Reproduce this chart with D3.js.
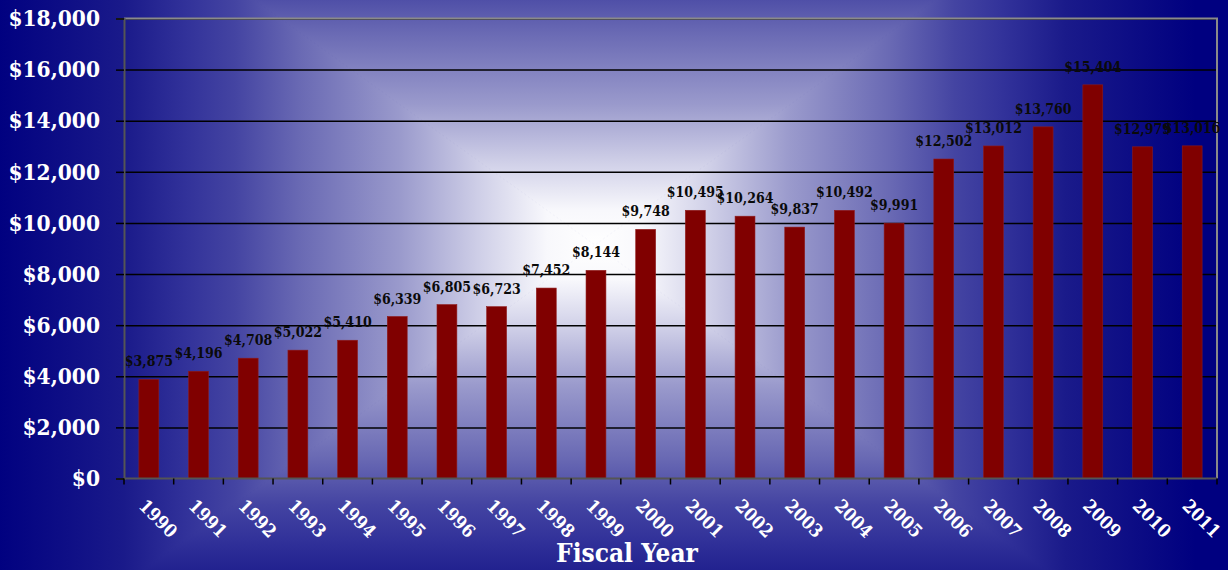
<!DOCTYPE html>
<html>
<head>
<meta charset="utf-8">
<script src="https://cdn.jsdelivr.net/npm/d3@7"></script>
<style>
  html, body { margin: 0; padding: 0; background: #000080; }
  svg { display: block; }
  text { font-family: "DejaVu Serif Condensed", "DejaVu Serif", serif; font-weight: bold; font-stretch: condensed; }
</style>
</head>
<body>
<svg id="chart" width="1228" height="570"></svg>
<script>
// Annual amounts by fiscal year (dollars)
const years = ['1990','1991','1992','1993','1994','1995','1996','1997','1998','1999','2000',
               '2001','2002','2003','2004','2005','2006','2007','2008','2009','2010','2011'];
const amounts = [3875, 4196, 4708, 5022, 5410, 6339, 6805, 6723, 7452, 8144, 9748,
                 10495, 10264, 9837, 10492, 9991, 12502, 13012, 13760, 15404, 12979, 13016];
const yTicks = [0, 2000, 4000, 6000, 8000, 10000, 12000, 14000, 16000, 18000];
const xTitle = 'Fiscal Year';

const W = 1228, H = 570;
const plot = { left: 124, right: 1217, top: 18.5, bottom: 478.5 };

const svg = d3.select('#chart');
const defs = svg.append('defs');

// ---- Background: rectangular "from centre" gradient, white core fading to navy ----
const g0 = { cx: 595, cy: 245, hw: 600, hh: 432 };
const stops = [
  [0.00, '#ffffff'], [0.08, '#f8f8fc'], [0.19, '#d0d0e8'], [0.325, '#9a9acc'],
  [0.49, '#6a6ab4'], [0.60, '#4444a2'], [0.68, '#32329a'], [0.785, '#1a1a8a'],
  [1.00, '#000080']
];
const L = g0.cx - g0.hw, R = g0.cx + g0.hw, T = g0.cy - g0.hh, B = g0.cy + g0.hh;
const sides = [
  { id: 'gTop',    to: [g0.cx, T], pts: [[g0.cx, g0.cy], [L, T], [R, T]] },
  { id: 'gBottom', to: [g0.cx, B], pts: [[g0.cx, g0.cy], [L, B], [R, B]] },
  { id: 'gLeft',   to: [L, g0.cy], pts: [[g0.cx, g0.cy], [L, T], [L, B]] },
  { id: 'gRight',  to: [R, g0.cy], pts: [[g0.cx, g0.cy], [R, T], [R, B]] }
];
sides.forEach(s => {
  const lg = defs.append('linearGradient').attr('id', s.id)
    .attr('gradientUnits', 'userSpaceOnUse')
    .attr('x1', g0.cx).attr('y1', g0.cy).attr('x2', s.to[0]).attr('y2', s.to[1]);
  stops.forEach(([o, c]) => lg.append('stop').attr('offset', o).attr('stop-color', c));
});
const bg = svg.append('g');
bg.append('rect').attr('width', W).attr('height', H).attr('fill', '#000080');
sides.forEach(s => {
  bg.append('polygon')
    .attr('points', s.pts.map(p => p.join(',')).join(' '))
    .attr('fill', `url(#${s.id})`)
    .attr('stroke', `url(#${s.id})`).attr('stroke-width', 1);
});

// ---- Scales ----
const x = d3.scaleBand().domain(years)
  .range([plot.left, plot.right]).paddingInner(0.6).paddingOuter(0.3);
const y = d3.scaleLinear().domain([0, 18000]).range([plot.bottom, plot.top]);
const money = d => '$' + d3.format(',')(d);

// ---- Gridlines ----
svg.append('g')
  .attr('transform', `translate(${plot.left},0)`)
  .call(d3.axisLeft(y).tickValues(yTicks.slice(1)).tickSize(-(plot.right - plot.left)).tickFormat(''))
  .call(g => g.select('.domain').remove())
  .call(g => g.selectAll('line').attr('stroke', '#000').attr('stroke-width', 1.5));

// ---- Plot frame (top and right edges) ----
svg.append('path')
  .attr('d', `M${plot.left},${plot.top}H${plot.right}V${plot.bottom}`)
  .attr('fill', 'none').attr('stroke', '#8a8a8a').attr('stroke-width', 2);

// ---- Bars ----
svg.append('g').selectAll('rect').data(amounts).join('rect')
  .attr('x', (d, i) => x(years[i]))
  .attr('y', d => y(d))
  .attr('width', x.bandwidth())
  .attr('height', d => y(0) - y(d))
  .attr('fill', '#800000')
  .attr('stroke', '#8f1a1a').attr('stroke-width', 0.6);

// ---- Value labels ----
svg.append('g').selectAll('text').data(amounts).join('text')
  .attr('x', (d, i) => x(years[i]) + x.bandwidth() / 2)
  .attr('y', d => y(d) - 13)
  .attr('text-anchor', 'middle')
  .attr('font-size', 14)
  .attr('fill', '#0a0a0a')
  .text(money);

// ---- Y axis ----
const yAxis = svg.append('g')
  .attr('transform', `translate(${plot.left},0)`)
  .call(d3.axisLeft(y).tickValues(yTicks).tickFormat(money).tickSize(8).tickPadding(16));
yAxis.select('.domain').attr('stroke', '#555').attr('stroke-width', 2);
yAxis.selectAll('line').attr('stroke', '#000').attr('stroke-width', 1.5);
yAxis.selectAll('text')
  .attr('fill', '#fff').attr('font-size', 22.5)
  .attr('font-family', '"DejaVu Serif Condensed", "DejaVu Serif", serif')
  .attr('font-weight', 'bold');

// ---- X axis: baseline, ticks at category boundaries, rotated year labels ----
const xg = svg.append('g');
xg.append('line')
  .attr('x1', plot.left).attr('x2', plot.right)
  .attr('y1', plot.bottom).attr('y2', plot.bottom)
  .attr('stroke', '#555').attr('stroke-width', 2);
const half = (x.step() - x.bandwidth()) / 2;
const bounds = years.map(d => x(d) - half).concat([x(years[years.length - 1]) + x.bandwidth() + half]);
xg.selectAll('line.tick').data(bounds).join('line').attr('class', 'tick')
  .attr('x1', d => d).attr('x2', d => d)
  .attr('y1', plot.bottom).attr('y2', plot.bottom + 6)
  .attr('stroke', '#000').attr('stroke-width', 1.5);
xg.selectAll('text').data(years).join('text')
  .attr('transform', d => `translate(${x(d) + x.bandwidth() / 2 - 11},${507}) rotate(45)`)
  .attr('fill', '#fff')
  .attr('font-size', 18)
  .text(d => d);

// ---- Axis title ----
svg.append('text')
  .attr('x', 627).attr('y', 562)
  .attr('text-anchor', 'middle')
  .attr('fill', '#fff').attr('font-size', 26)
  .text(xTitle);
</script>
</body>
</html>
